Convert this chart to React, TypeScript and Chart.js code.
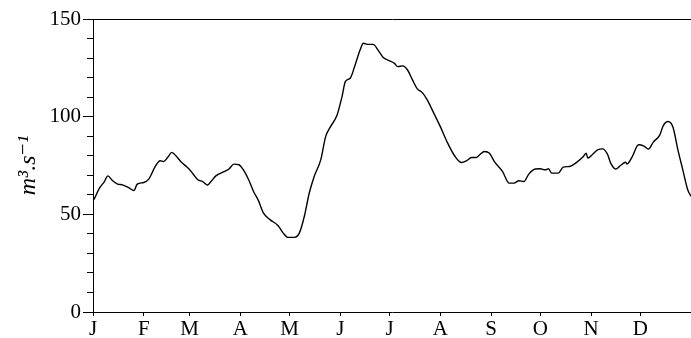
import React, { useEffect, useRef } from "react";
import { Chart, registerables } from "chart.js";

Chart.register(...registerables);

// Day of year (0 = 1 January) and discharge in m3/s
const days = [
  0, 1, 4, 7, 9, 12, 15, 18, 22, 25, 27, 31, 34, 38, 41, 43, 46, 48, 51, 54,
  58, 61, 64, 67, 70, 72, 75, 80, 83, 86, 89, 92, 95, 98, 101, 104, 108, 113,
  116, 119, 123, 126, 129, 132, 135, 139, 142, 145, 149, 152, 154, 157, 160,
  163, 165, 168, 171, 174, 177, 180, 184, 186, 189, 192, 195, 198, 201, 204,
  208, 212, 216, 221, 225, 228, 231, 234, 236, 239, 242, 245, 250, 254, 257,
  260, 263, 266, 270, 273, 276, 278, 280, 284, 287, 291, 295, 299, 301, 302,
  305, 308, 311, 314, 316, 319, 322, 325, 326, 329, 333, 336, 339, 342, 346,
  348, 351, 354, 357, 360, 363, 365,
];
const flow = [
  57, 58.3, 63.5, 66.8, 69.7, 67.2, 65.5, 65.1, 63.5, 62.2, 65.5, 66.3, 68,
  74.5, 77.4, 77, 79.6, 81.7, 79.6, 76.7, 73.7, 70.8, 67.7, 66.8, 65, 66.8,
  69.7, 71.9, 73.2, 75.7, 75.4, 72.5, 67.7, 61.7, 57, 50.7, 47.3, 44.2, 40.5,
  38.2, 38.2, 40.5, 49, 60.9, 69.4, 77.9, 89.8, 94.9, 100.9, 110.3, 117.9,
  119.7, 126.5, 134.1, 137.6, 137, 137, 134.1, 130.4, 129, 127.3, 125.6, 126,
  123.9, 118.8, 114.2, 112.3, 108.6, 101.8, 94.9, 87.3, 79.6, 76.5, 77.4,
  79.1, 79.1, 80.5, 82.2, 81.3, 77, 71.9, 66, 66, 67.2, 66.8, 70.6, 73.2,
  73.3, 72.8, 73.3, 71.1, 71.1, 74.2, 74.5, 76.5, 79.3, 81.3, 78.8, 80.8, 83,
  83.5, 80.8, 76.2, 73.2, 75, 76.7, 75.8, 79.3, 85.6, 85.1, 83.4, 87, 90.7,
  95.3, 97.5, 94.6, 83, 72.8, 62.6, 59.2,
];

const monthStarts = [0, 31, 59, 90, 120, 151, 181, 212, 243, 273, 304, 334];
const monthLabels = ["J", "F", "M", "A", "M", "J", "J", "A", "S", "O", "N", "D"];
const yTickLabels = [0, 50, 100, 150];

const FONT = "'Liberation Serif', 'DejaVu Serif', 'Times New Roman', serif";

export default function App() {
  const ref = useRef<HTMLCanvasElement | null>(null);

  useEffect(() => {
    if (!ref.current) return;
    const chart = new Chart(ref.current, {
      type: "line",
      data: {
        datasets: [
          {
            data: days.map((d, i) => ({ x: d, y: flow[i] })),
            borderColor: "#000",
            borderWidth: 1.4,
            pointRadius: 0,
            cubicInterpolationMode: "monotone",
            fill: false,
          },
        ],
      },
      options: {
        animation: false,
        responsive: false,
        devicePixelRatio: 1,
        layout: { padding: { left: 0, top: 19, right: 0, bottom: 0 } },
        plugins: {
          legend: { display: false },
          tooltip: { enabled: false },
        },
        scales: {
          x: {
            type: "linear",
            position: "bottom",
            min: 0,
            max: 365,
            afterBuildTicks: (s: any) => {
              s.ticks = monthStarts.map((v) => ({ value: v }));
            },
            afterFit: (s: any) => {
              s.height = 26;
            },
            ticks: {
              autoSkip: false,
              maxRotation: 0,
              padding: 1,
              color: "#000",
              font: { family: FONT, size: 21 },
              callback: (v: any) => {
                const i = monthStarts.indexOf(Number(v));
                return i >= 0 ? monthLabels[i] : "";
              },
            },
            grid: {
              display: true,
              drawOnChartArea: false,
              drawTicks: true,
              tickLength: 4,
              tickColor: "#000",
              tickWidth: 1,
            },
            border: { display: true, color: "#000", width: 1 },
          },
          x2: {
            type: "linear",
            position: "top",
            min: 0,
            max: 365,
            afterFit: (s: any) => {
              s.height = 0;
            },
            ticks: { display: false },
            grid: { display: true, drawOnChartArea: false, drawTicks: false },
            border: { display: true, color: "#000", width: 1 },
          },
          y: {
            type: "linear",
            min: 0,
            max: 150,
            afterFit: (s: any) => {
              s.width = 93;
            },
            ticks: {
              stepSize: 10,
              autoSkip: false,
              padding: 2,
              color: "#000",
              font: { family: FONT, size: 21 },
              callback: (v: any) =>
                yTickLabels.includes(Number(v)) ? String(v) : "",
            },
            grid: {
              display: true,
              drawOnChartArea: false,
              drawTicks: true,
              tickLength: 10,
              tickColor: "#000",
              tickWidth: 1,
              tickBorderDash: (ctx: any) =>
                ctx.tick && yTickLabels.includes(ctx.tick.value) ? [] : [0, 4, 6, 100],
            },
            border: { display: true, color: "#000", width: 1 },
            title: {
              display: true,
              text: "m\u00B3.s\u207B\u00B9",
              color: "#000",
              font: { family: FONT, size: 24, style: "italic" },
              padding: { top: 14, bottom: 0 },
            },
          },
        },
      },
    });
    return () => chart.destroy();
  }, []);

  return (
    <div style={{ position: "fixed", left: 0, top: 0, width: 691, height: 338, background: "#fff" }}>
      <canvas ref={ref} width={691} height={338} style={{ display: "block" }} />
    </div>
  );
}
